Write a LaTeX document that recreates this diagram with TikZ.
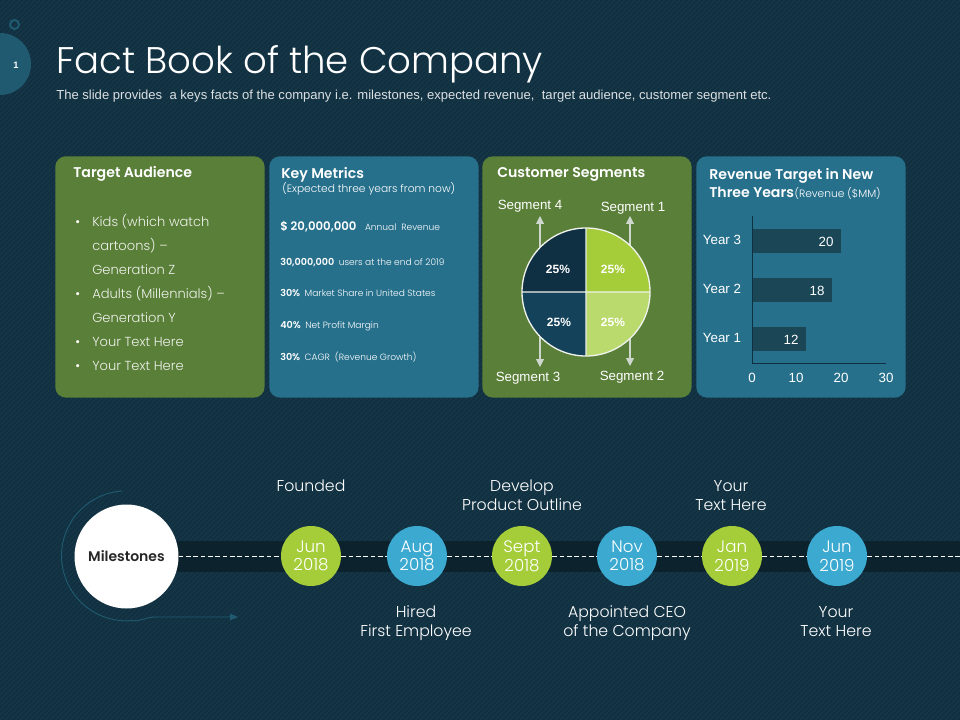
\documentclass[tikz,border=0pt]{standalone}
\usepackage{fontspec}
\setmainfont{Liberation Sans}
\newfontfamily\gothic{Poppins Light}
\newfontfamily\gothicb{Poppins SemiBold}
\usepackage{tikz}
\usetikzlibrary{arrows.meta,positioning}
\usepackage{xcolor}
\definecolor{fbback}{RGB}{16,47,63}
\definecolor{fbstripe}{RGB}{22,55,72}
\definecolor{fbgreen}{RGB}{90,127,57}
\definecolor{fbblue}{RGB}{39,112,140}
\definecolor{fbbar}{RGB}{26,70,86}
\definecolor{fbband}{RGB}{12,35,46}
\definecolor{fblime}{RGB}{165,205,57}
\definecolor{fblightlime}{RGB}{187,218,110}
\definecolor{fbsky}{RGB}{59,169,208}
\definecolor{fbnavy}{RGB}{15,47,66}
\definecolor{fbteal}{RGB}{19,66,90}
\definecolor{fbarc}{RGB}{31,90,112}
\definecolor{fbarrow}{RGB}{205,215,205}
\tikzstyle{card} = [rectangle, rounded corners=8pt, minimum width=157pt, minimum height=181pt, inner sep=0pt, anchor=north west]
\tikzstyle{cardtitle} = [anchor=base west, inner sep=0pt, text=white, font=\gothicb\fontsize{10.6}{12}\selectfont]
\tikzstyle{bodytext} = [anchor=base west, inner sep=0pt, text=white, font=\gothic\fontsize{9.8}{11}\selectfont]
\tikzstyle{smalltext} = [anchor=base west, inner sep=0pt, text=white, font=\gothic\fontsize{6.8}{8}\selectfont]
\tikzstyle{figtext} = [anchor=base west, inner sep=0pt, text=white, font=\gothicb\fontsize{7.2}{9}\selectfont]
\tikzstyle{chartlabel} = [inner sep=0pt, text=white, font=\fontsize{10}{12}\selectfont]
\tikzstyle{milestone} = [circle, minimum size=45pt, inner sep=0pt, align=center, text=white, font=\gothic\fontsize{12.5}{14}\selectfont]
\tikzstyle{event} = [inner sep=0pt, align=center, text=white, font=\gothic\fontsize{11.8}{14.25}\selectfont]
\tikzstyle{segarrow} = [fbarrow, thick, -{Triangle[length=6pt,width=6pt]}]
\tikzstyle{timedash} = [white, dash pattern=on 3.5pt off 2pt]
\begin{document}
\begin{tikzpicture}[x=0.75pt,y=-0.75pt]
\useasboundingbox (0,0) rectangle (960,720);
\fill[fbback] (0,0) rectangle (960,720);

% Stripes
\begin{scope}
\clip (0,0) rectangle (960,720);
\foreach \s in {0,5,...,1680} {
    \draw[fbstripe, line width=1.2pt] (\s,0) -- (\s-720,720);
}
\end{scope}

% Cards
\node[card, fill=fbgreen] (audience) at (55,156) {};
\node[card, fill=fbblue] (metrics) at (269,156) {};
\node[card, fill=fbgreen] (segments) at (482,156) {};
\node[card, fill=fbblue] (revenue) at (696,156) {};

% Header
\fill[fbarc] (0,64) circle (31);
\draw[fbarc, line width=1.5pt] (14.5,24.5) circle (4.5);
\node[inner sep=0pt, text=white, font=\bfseries\fontsize{7}{8}\selectfont] (pageno) at (16,65) {1};
\node[anchor=base west, inner sep=0pt, text=white, font=\gothic\fontsize{27.8}{32}\selectfont] (title) at (56,74) {Fact Book of the Company};
\node[anchor=base west, inner sep=0pt, text=white!85!fbback, font=\fontsize{9.8}{12}\selectfont] (subtitle) at (56,100) {The slide provides\ \ a keys facts of the company i.e. milestones, expected revenue,\ \ target audience, customer segment etc.};

% Target Audience
\node[cardtitle] (audiencetitle) at (73,178) {Target Audience};
\foreach \y/\t in {221/Kids (which watch,245/cartoons) –,269/Generation Z,293/Adults (Millennials) –,317/Generation Y,341/Your Text Here,365/Your Text Here} {
    \node[bodytext, text=white!90!fbgreen] at (92,\y+5.5) {\t};
}
\foreach \y in {221,293,341,365} {
    \node[bodytext] at (75,\y+5.5) {\textbullet};
}

% Key Metrics
\node[cardtitle] (metricstitle) at (281,179) {Key Metrics};
\node[smalltext, font=\gothic\fontsize{8}{9}\selectfont] (metricsnote) at (282,193) {(Expected three years from now)};
\node[figtext, font=\gothicb\fontsize{8.8}{10}\selectfont] (fig1) at (280,231) {\$ 20,000,000};
\node[smalltext, right=6pt of fig1.base east, anchor=base west] {Annual\ \ Revenue};
\node[figtext] (fig2) at (280,265.5) {30,000,000};
\node[smalltext, right=3pt of fig2.base east, anchor=base west] {users at the end of 2019};
\node[figtext] (fig3) at (280,296.5) {30\%};
\node[smalltext, right=3pt of fig3.base east, anchor=base west] {Market Share in United States};
\node[figtext] (fig4) at (280,328) {40\%};
\node[smalltext, right=3pt of fig4.base east, anchor=base west] {Net Profit Margin};
\node[figtext] (fig5) at (280,360) {30\%};
\node[smalltext, right=3pt of fig5.base east, anchor=base west] {CAGR\ \ (Revenue Growth)};

% Customer Segments
\node[cardtitle] (segmentstitle) at (497,178) {Customer Segments};
\coordinate (tail4) at (540,247);
\coordinate (tail1) at (630,247);
\coordinate (tail3) at (540,337);
\coordinate (tail2) at (630,337);
\coordinate (head4) at (540,216);
\coordinate (head1) at (630,216);
\coordinate (head3) at (540,367);
\coordinate (head2) at (630,366);
\foreach \a in {1,2,3,4} {
    \draw[segarrow] (tail\a) -- (head\a);
}
\fill[fblime] (586,292) -- (586,228) arc (-90:0:64) -- cycle;
\fill[fblightlime] (586,292) -- (650,292) arc (0:90:64) -- cycle;
\fill[fbteal] (586,292) -- (586,356) arc (90:180:64) -- cycle;
\fill[fbnavy] (586,292) -- (522,292) arc (180:270:64) -- cycle;
\draw[white!90!fbgreen, line width=1pt] (586,292) circle (64) (522,292) -- (650,292) (586,228) -- (586,356);
\foreach \x/\y in {558/269,613/269,559/322,613/322} {
    \node[chartlabel, font=\bfseries\fontsize{9}{11}\selectfont] at (\x,\y) {25\%};
}
\node[chartlabel] at (530,206) {Segment\ 4};
\node[chartlabel] at (633,208) {Segment\ 1};
\node[chartlabel] at (528,378) {Segment\ 3};
\node[chartlabel] at (632,377) {Segment\ 2};

% Revenue Target
\node[cardtitle] (revenuetitle) at (709,180) {Revenue Target in New};
\node[cardtitle] (revenuetitle2) at (709,198) {Three Years};
\node[smalltext, font=\gothic\fontsize{8}{9}\selectfont, right=0pt of revenuetitle2.base east, anchor=base west] {(Revenue (\$MM)};
\foreach \y/\w/\v/\n in {241/89/20/3,290/80/18/2,339/54/12/1} {
    \fill[fbbar] (752,\y-12) rectangle ++(\w,24);
    \node[chartlabel] at (752+\w-15,\y+1) {\v};
    \node[chartlabel] at (722,\y-1) {Year \n};
}
\draw[fbnavy, line width=0.8pt] (752.5,216) -- (752.5,363.5) -- (886,363.5);
\foreach \x/\v in {752/0,796/10,841/20,886/30} {
    \node[chartlabel] at (\x,378) {\v};
}

% Timeline
\fill[fbband] (170,541) rectangle (960,572);
\node[circle, fill=white, minimum size=78pt, inner sep=0pt, text=black!85, font=\gothicb\fontsize{10.5}{12}\selectfont] (start) at (126.5,556.5) {Milestones};
\node[milestone, fill=fblime] (m1) at (311,556) {Jun\\2018};
\node[milestone, fill=fbsky] (m2) at (417,556) {Aug\\2018};
\node[milestone, fill=fblime] (m3) at (522,556) {Sept\\2018};
\node[milestone, fill=fbsky] (m4) at (627,556) {Nov\\2018};
\node[milestone, fill=fblime] (m5) at (732,556) {Jan\\2019};
\node[milestone, fill=fbsky] (m6) at (837,556) {Jun\\2019};
\coordinate (lineend) at (960,556);
\draw[timedash] (start.east |- m1) -- (m1.west);
\draw[timedash] (m1) -- (m2);
\draw[timedash] (m2) -- (m3);
\draw[timedash] (m3) -- (m4);
\draw[timedash] (m4) -- (m5);
\draw[timedash] (m5) -- (m6);
\draw[timedash] (m6) -- (lineend);
\draw[fbarc, line width=0.7pt, -{Triangle[length=6pt,width=5pt]}] (122,491) arc (266:85:65) .. controls (140,622) and (146,617) .. (155,617) -- (238,617);

% Events
\node[event] at (311,486) {Founded};
\node[event] at (522,495.5) {Develop\\Product Outline};
\node[event] at (731,495.5) {Your\\Text Here};
\node[event] at (416,623.5) {Hired\\First Employee};
\node[event] at (627,623.5) {Appointed CEO\\of the Company};
\node[event] at (836,621.5) {Your\\Text Here};
\end{tikzpicture}
\end{document}
